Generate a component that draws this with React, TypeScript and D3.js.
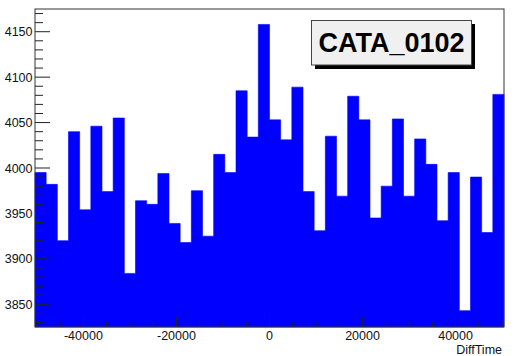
import React from "react";
import * as d3 from "d3";

// histogram contents, 42 bins of DiffTime
const counts = [
  3995, 3982, 3920, 4040, 3954, 4046, 3974, 4055, 3884, 3964, 3960, 3994, 3939, 3918,
  3975, 3925, 4015, 3995, 4085, 4034, 4158, 4053, 4031, 4089, 3974, 3931, 4035, 3969,
  4079, 4053, 3945, 3980, 4054, 3969, 4032, 4004, 3942, 3995, 3843, 3990, 3929, 4081,
];
const xLow = -50400;
const xHigh = 50400;
const yLow = 3825;
const yHigh = 4175;
const xMajorTicks = [-40000, -20000, 0, 20000, 40000];
const yMajorTicks = [3850, 3900, 3950, 4000, 4050, 4100, 4150];
const title = "CATA_0102";
const xTitle = "DiffTime";

const W = 521;
const H = 356;
const frame = { left: 35, right: 504, top: 9, bottom: 327 };
const font = "'Liberation Sans', Arial, sans-serif";

const App = () => {
  const x = d3.scaleLinear().domain([xLow, xHigh]).range([frame.left, frame.right]);
  const y = d3.scaleLinear().domain([yLow, yHigh]).range([frame.bottom, frame.top]);
  const binW = (xHigh - xLow) / counts.length;

  const xMinor = d3.range(-50000, 50001, 5000).filter(v => !xMajorTicks.includes(v));
  const yMinor = d3.range(3830, 4175, 10).filter(v => !yMajorTicks.includes(v));

  // step outline of the histogram, filled down to the frame bottom
  const pts: [number, number][] = [[x(xLow), y(yLow)]];
  counts.forEach((c, i) => {
    pts.push([x(xLow + i * binW), y(c)]);
    pts.push([x(xLow + (i + 1) * binW), y(c)]);
  });
  pts.push([x(xHigh), y(yLow)]);
  const area = d3.line()(pts) + "Z";

  return (
    <svg width={W} height={H} style={{ position: "absolute", left: 0, top: 0, background: "#fff" }}
      fontFamily={font}>
      <path d={area} fill="#0000ff" stroke="#0000ff" strokeWidth={0.6} />

      {/* y axis ticks, drawn inward */}
      {yMinor.map(v => (
        <line key={"ym" + v} x1={frame.left} x2={frame.left + 8} y1={y(v)} y2={y(v)} stroke="#222" strokeWidth={1} />
      ))}
      {yMajorTicks.map(v => (
        <g key={"yM" + v}>
          <line x1={frame.left} x2={frame.left + 15} y1={y(v)} y2={y(v)} stroke="#222" strokeWidth={1} />
          <text x={frame.left - 2.5} y={y(v) + 4.5} textAnchor="end" fontSize={12.5} fill="#111">{v}</text>
        </g>
      ))}

      {/* x axis ticks */}
      {xMinor.map(v => (
        <line key={"xm" + v} x1={x(v)} x2={x(v)} y1={frame.bottom} y2={frame.bottom - 5.5} stroke="#222" strokeWidth={1} />
      ))}
      {xMajorTicks.map(v => (
        <g key={"xM" + v}>
          <line x1={x(v)} x2={x(v)} y1={frame.bottom} y2={frame.bottom - 10} stroke="#222" strokeWidth={1} />
          <text x={x(v)} y={339.5} textAnchor="middle" fontSize={12.5} fill="#111">{v}</text>
        </g>
      ))}
      <text x={502} y={354} textAnchor="end" fontSize={12.5} fill="#111">{xTitle}</text>

      <rect x={frame.left} y={frame.top} width={frame.right - frame.left} height={frame.bottom - frame.top}
        fill="none" stroke="#333" strokeWidth={1} />

      {/* title box with shadow */}
      <rect x={315} y={24} width={160} height={45} fill="#000" />
      <rect x={311.5} y={20.5} width={160} height={44.5} fill="#f0f0f0" stroke="#444" strokeWidth={1} />
      <text x={391.5} y={52} textAnchor="middle" fontSize={27} fontWeight="bold" fill="#000">{title}</text>
    </svg>
  );
};

export default App;
